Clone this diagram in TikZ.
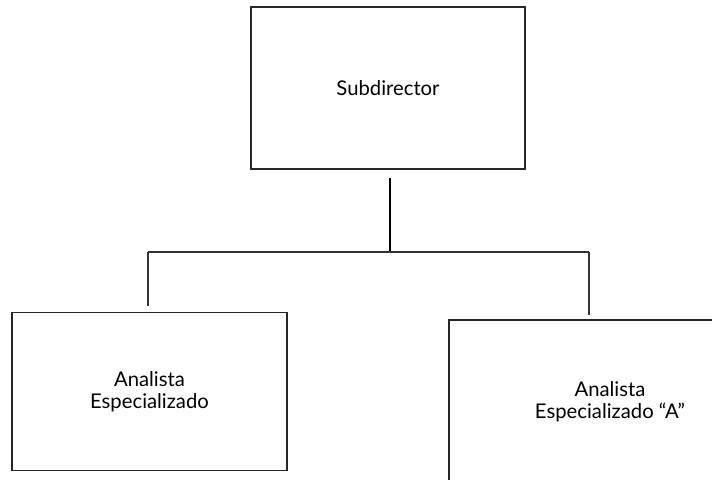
\documentclass[tikz,border=0pt]{standalone}
\usepackage{fontspec}
\setmainfont{Lato}
\usetikzlibrary{positioning,calc}

\begin{document}
\begin{tikzpicture}[
  x=0.75pt, y=-0.75pt,
  puesto/.style={rectangle, draw=black!85, line width=0.8pt, font=\fontsize{15.2}{16.5}\selectfont,
                 align=center, inner sep=0pt},
  linea/.style={draw=black!80, line width=0.8pt},
  tronco/.style={draw=black, line width=1.5pt}
]
\useasboundingbox (0,0) rectangle (712,479);
\clip (0,0) rectangle (712,479);

% Puestos
\node[puesto, minimum width=274*0.75pt, minimum height=162*0.75pt] (sub)  at (388,88)    {Subdirector};
\node[puesto, minimum width=275*0.75pt, minimum height=158*0.75pt] (ana)  at (149.5,391.5) {Analista\\Especializado};
\node[puesto, minimum width=322*0.75pt, minimum height=164*0.75pt] (anaA) at (610,402)   {Analista\\Especializado ``A''};

% Conectores
\coordinate (hub)  at (390,252);
\coordinate (izq)  at (148,252);
\coordinate (der)  at (589,252);
\draw[tronco] (390,178) -- (hub);
\draw[linea] (izq) -- (der);
\draw[linea, shorten >=6*0.75pt] (izq) -- (izq |- ana.north);
\draw[linea, shorten >=4*0.75pt] (der) -- (der |- anaA.north);
\end{tikzpicture}
\end{document}
